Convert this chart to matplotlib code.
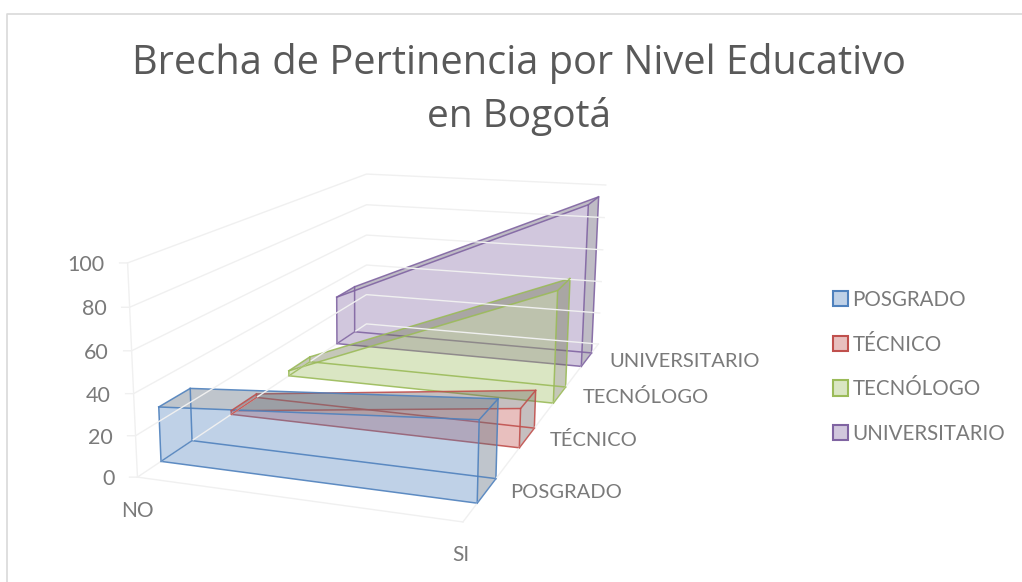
import numpy as np
import matplotlib
matplotlib.use("Agg")
import matplotlib.pyplot as plt
from matplotlib.patches import Patch, Polygon

series = ["POSGRADO", "TÉCNICO", "TECNÓLOGO", "UNIVERSITARIO"]
categories = ["NO", "SI"]
no_values = [27, 2, 3, 30]
si_values = [38, 20, 62, 96]
z_ticks = [0, 20, 40, 60, 80, 100]

line_colors = ["#4F81BD", "#C0504D", "#9BBB59", "#8064A2"]
side_colors = ["#5F7080", "#70605F", "#6F7550", "#60586F"]
grid_color = "#F0F0F0"
text_color = "#7A7A7A"
half_depth = 0.052

# camera fit: wall corners (x, depth, z) -> pixel, solved for a 3x4 projection
world = [(0, 0, 0), (0, 0, 100), (1, 0, 0), (1, 1, 0), (1, 1, 100), (0, 1, 0), (0, 1, 100)]
pixel = [(137, 477), (128, 263), (463, 522), (598, 344), (606, 185), (367, 324), (366, 174)]

rows = []
rhs = []
for (wx, wy, wz), (px, py) in zip(world, pixel):
	w = [wx, wy, wz / 100, 1]
	rows.append(w + [0, 0, 0, 0] + [-px * c for c in w[:3]])
	rhs.append(px)
	rows.append([0, 0, 0, 0] + w + [-py * c for c in w[:3]])
	rhs.append(py)
sol = np.linalg.lstsq(np.array(rows, float), np.array(rhs, float), rcond=None)[0]
cam = np.append(sol, 1).reshape(3, 4)


def project(x, y, z):
	p = cam @ np.array([x, y, z / 100, 1.0])
	return p[0] / p[2], p[1] / p[2]


plt.rcParams["font.family"] = ["Lato", "DejaVu Sans"]
fig = plt.figure(figsize=(10.22, 5.82), dpi=100)
ax = fig.add_axes([0, 0, 1, 1])
ax.set_xlim(0, 1022)
ax.set_ylim(582, 0)
ax.axis("off")

# chart frame
ax.plot([7, 7, 1022], [582, 14, 14], color="#D9D9D9", lw=1.2)

ax.text(519, 63, "Brecha de Pertinencia por Nivel Educativo", ha="center", va="center",
	fontsize=28.6, color="#595959", family=["Open Sans"])
ax.text(519, 116, "en Bogotá", ha="center", va="center",
	fontsize=28.0, color="#595959", family=["Open Sans"])

# walls
for z in z_ticks:
	a = project(0, 0, z)
	b = project(0, 1, z)
	c = project(1, 1, z)
	ax.plot([a[0] - 8, a[0], b[0], c[0]], [a[1], a[1], b[1], c[1]], color=grid_color, lw=1.0)
	ax.text(a[0] - 23, a[1] + 2, str(z), ha="right", va="center", fontsize=15.5, color=text_color)
for pts in [[(0, 0, 0), (0, 0, 100)], [(0, 0, 0), (1, 0, 0)], [(1, 0, 0), (1, 1, 0)]]:
	xy = [project(*p) for p in pts]
	ax.plot([q[0] for q in xy], [q[1] for q in xy], color=grid_color, lw=1.0)

# boxes, back to front
for i in reversed(range(len(series))):
	c = (i + 0.5) / len(series)
	front, back = c - half_depth, c + half_depth
	no, si = no_values[i], si_values[i]
	f_poly = [project(0, front, 0), project(1, front, 0), project(1, front, si), project(0, front, no)]
	b_poly = [project(0, back, 0), project(1, back, 0), project(1, back, si), project(0, back, no)]
	top = [project(0, front, no), project(1, front, si), project(1, back, si), project(0, back, no)]
	side = [project(1, front, 0), project(1, back, 0), project(1, back, si), project(1, front, si)]
	ax.add_patch(Polygon(side, closed=True, fc=side_colors[i], ec="none", alpha=0.4))
	ax.add_patch(Polygon(top, closed=True, fc=side_colors[i], ec="none", alpha=0.4))
	ax.add_patch(Polygon(f_poly, closed=True, fc=line_colors[i], ec="none", alpha=0.36))
	ax.add_patch(Polygon(f_poly, closed=True, fc="none", ec=line_colors[i], lw=1.1, alpha=0.9))
	ax.add_patch(Polygon(b_poly, closed=True, fc="none", ec=line_colors[i], lw=1.1, alpha=0.9))
	for a, b in zip(f_poly, b_poly):
		ax.plot([a[0], b[0]], [a[1], b[1]], color=line_colors[i], lw=1.1, alpha=0.9)

# axis labels
a = project(0, 0, 0)
ax.text(a[0], a[1] + 34, categories[0], ha="center", va="center", fontsize=15, color=text_color)
a = project(1, 0, 0)
ax.text(a[0] - 2, a[1] + 33, categories[1], ha="center", va="center", fontsize=15, color=text_color)
for i, name in enumerate(series):
	a = project(1, (i + 0.5) / len(series), 0)
	ax.text(a[0] + 23, a[1] + 2, name, ha="left", va="center", fontsize=14.5, color=text_color)

handles = [Patch(facecolor=matplotlib.colors.to_rgba(col, 0.36), edgecolor=col, linewidth=1.5, label=name)
	for name, col in zip(series, line_colors)]
ax.legend(handles=handles, loc="upper left", bbox_to_anchor=(0.815, 0.502), frameon=False,
	fontsize=14.8, labelcolor=text_color, handlelength=0.75, handleheight=0.75,
	handletextpad=0.2, labelspacing=1.2, borderpad=0, borderaxespad=0)

fig.savefig("out.png", dpi=100)
